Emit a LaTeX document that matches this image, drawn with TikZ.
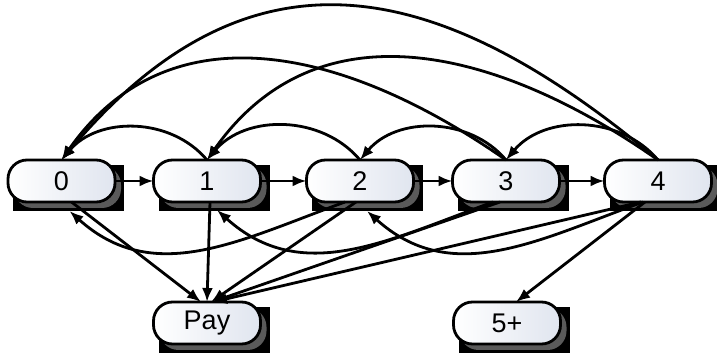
\documentclass[tikz,border=0pt]{standalone}
\usepackage{fontspec}
\setmainfont{Liberation Sans}
\usetikzlibrary{arrows.meta,shadows,backgrounds}
\definecolor{MyPale}{HTML}{E0E5EF}
\definecolor{MyShade}{HTML}{5A5A5A}

\begin{document}
\begin{tikzpicture}[x=1pt,y=1pt,
    pill/.style={draw, line width=2.8pt, rounded corners=19pt,
        minimum width=107pt, minimum height=42pt, outer sep=0pt,
        left color=white, right color=MyPale,
        general shadow={shadow xshift=6pt, shadow yshift=-6pt, fill=MyShade},
        font=\fontsize{27}{30}\selectfont},
    link/.style={line width=2.8pt, -{Latex[length=14pt,width=11pt]}}]
    \useasboundingbox (0,0) rectangle (717,353);

    % states
    \node[pill] (n0) at (61.5,172) {0};
    \node[pill] (n1) at (207,172) {1};
    \node[pill] (n2) at (360,172) {2};
    \node[pill] (n3) at (506,172) {3};
    \node[pill] (n4) at (658,172) {4};
    \node[pill] (pay) at (207,30) {Pay};
    \node[pill] (five) at (507,30) {5+};

    % black boxes behind
    \begin{pgfonlayer}{background}
        \foreach \s in {n0,n1,n2,n3,n4,pay,five}
            \fill[black] ([xshift=5pt,yshift=-5pt]\s.north west) rectangle ([xshift=9pt,yshift=-9pt]\s.south east);
    \end{pgfonlayer}

    % forward
    \draw[link] (n0) -- (n1);
    \draw[link] (n1) -- (n2);
    \draw[link] (n2) -- (n3);
    \draw[link] (n3) -- (n4);

    % back over the top
    \draw[link] (n1.north) to[out=130,in=50] (n0.north);
    \draw[link] (n2.north) to[out=130,in=50] (n1.north);
    \draw[link] (n3.north) to[out=130,in=50] (n2.north);
    \draw[link] (n4.north) to[out=130,in=50] (n3.north);
    \draw[link] (n3.north) to[out=145,in=55,looseness=1.1] (n0.north);
    \draw[link] (n4.north) to[out=145,in=55,looseness=1.1] (n1.north);
    \draw[link] (n4.north) to[out=140,in=50,looseness=1.25] (n0.north);

    % back underneath
    \draw[link] ([xshift=-15pt]n2.south) to[out=200,in=-42,looseness=1.05] ([xshift=8pt,yshift=-9pt]n0.south);
    \draw[link] ([xshift=-13pt]n3.south) to[out=200,in=-42,looseness=1.05] ([xshift=10pt,yshift=-8pt]n1.south);
    \draw[link] ([xshift=-15pt]n4.south) to[out=200,in=-42,looseness=1.05] ([xshift=7pt,yshift=-9pt]n2.south);

    % to pay and 5+
    \draw[link] ([xshift=10pt]n0.south) -- ([xshift=-6pt]pay.north);
    \draw[link] ([xshift=3pt]n1.south) -- (pay.north);
    \draw[link] ([xshift=-4pt]n2.south) -- ([xshift=4pt]pay.north);
    \draw[link] ([xshift=-6pt]n3.south) -- ([xshift=5pt]pay.north);
    \draw[link] ([xshift=-17pt]n4.south) -- ([xshift=6pt]pay.north);
    \draw[link] ([xshift=-13pt]n4.south) -- ([xshift=9pt]five.north);
\end{tikzpicture}
\end{document}
